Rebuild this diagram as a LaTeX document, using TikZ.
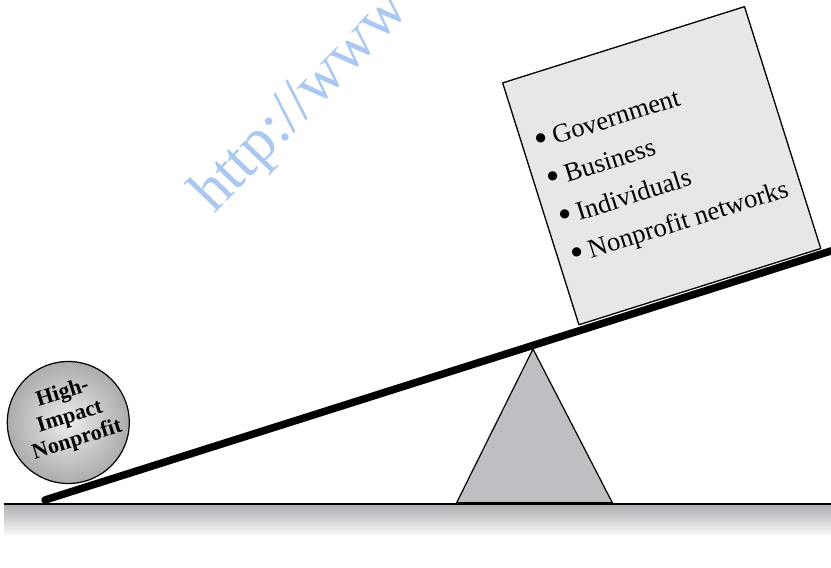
\documentclass[tikz,border=0pt]{standalone}
\usepackage{fontspec}
\setmainfont{Liberation Serif}
\definecolor{boxfill}{RGB}{230,231,232}
\definecolor{fulcrumfill}{RGB}{190,191,195}
\definecolor{wmark}{RGB}{170,200,240}
\definecolor{groundtop}{RGB}{172,173,176}
\newcommand{\bigbul}{\raisebox{-2.2pt}{\scalebox{1.45}{\textbullet}}\,}
\tikzset{
  outline/.style={draw=black, line width=1.2pt},
  listitem/.style={anchor=base west, inner sep=0pt, font=\fontsize{26.5}{30}\selectfont},
  balltext/.style={align=center, inner sep=0pt, font=\bfseries\fontsize{22}{24.5}\selectfont},
  watermark/.style={text=wmark, anchor=base west, inner sep=0pt, font=\fontsize{62}{70}\selectfont}
}
\begin{document}
\begin{tikzpicture}[x=1pt,y=1pt,line join=round]
\useasboundingbox (0,0) rectangle (831,568);
\clip (0,0) rectangle (831,568);
% watermark
\node[watermark, rotate=46] (wm) at (214,353) {http://www};
% ground
\shade[top color=groundtop, bottom color=white] (4,31) rectangle (831,64);
\coordinate (gL) at (4,64);
\coordinate (gR) at (831,64);
\draw[line width=1.2pt] (gL) -- (gR);
% fulcrum
\coordinate (apex) at (533,219);
\coordinate (fl) at (456,64);
\coordinate (fr) at (613,64);
\draw[outline, fill=fulcrumfill] (fl) -- (apex) -- (fr);
\draw[line width=3pt] (fl) -- (fr);
% box
\node[outline, line width=1.3pt, fill=boxfill, minimum size=253.6pt, inner sep=0pt, rotate=17.5] (box) at (661.7,402.3) {};
\begin{scope}[shift={(541.7,426.3)}, rotate=17.5, transform shape]
  \node[listitem] (l1) at (-6,-7) {\bigbul Government};
  \node[listitem] (l2) at (-6,-46.8) {\bigbul Business};
  \node[listitem] (l3) at (-6,-86.6) {\bigbul Individuals};
  \node[listitem] (l4) at (-6,-126.4) {\bigbul Nonprofit networks};
\end{scope}
% beam
\coordinate (bL) at (45,68);
\coordinate (bR) at (835,318.3);
\draw[line width=7.5pt, line cap=round] (bL) -- (bR);
% ball
\node[circle, outline, minimum size=122pt, inner sep=0pt, inner color={rgb,255:red,236;green,236;blue,236}, outer color={rgb,255:red,172;green,172;blue,174}] (ball) at (68.3,145.5) {};
\node[balltext, rotate=17.3] (ballt) at (70,151) {High-\\Impact\\Nonprofit};
\end{tikzpicture}
\end{document}
